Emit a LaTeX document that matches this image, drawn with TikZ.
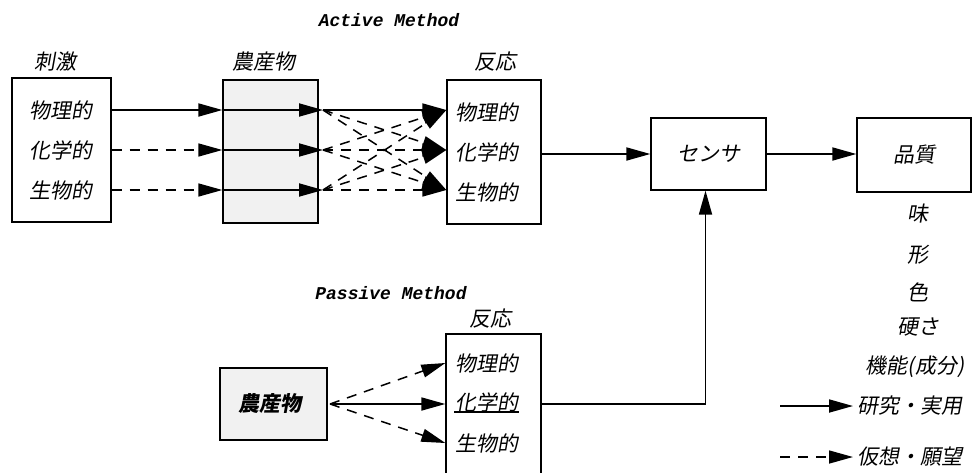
\documentclass[tikz,border=0pt]{standalone}
\usepackage{fontspec}
\usetikzlibrary{arrows.meta}
\newfontfamily\jp[FakeSlant=0.18]{Noto Sans CJK JP}
\newfontfamily\mono[FakeSlant=0.2]{Liberation Mono}
\begin{document}
\begin{tikzpicture}[x=1pt,y=-1pt,
  box/.style={draw,line width=1.3pt,inner sep=0pt},
  shade/.style={fill=gray!11},
  jt/.style={font=\jp\fontsize{21}{21}\selectfont,inner sep=1pt},
  tt/.style={font=\mono\bfseries\fontsize{18}{18}\selectfont,inner sep=0pt},
  tip/.style={-{Triangle[length=24pt,width=13pt]}},
  sol/.style={tip,line width=1.8pt},
  dsh/.style={tip,line width=1.5pt,dash pattern=on 10pt off 8pt}]
\useasboundingbox (0,0) rectangle (974,472);

% titles
\node[tt] (act) at (388,20) {Active Method};
\node[tt] (pas) at (390,293) {Passive Method};

% stimulus box
\node[box,minimum width=99pt,minimum height=144pt] (stim) at (61.5,150) {};
\node[jt] (stimt) at (55,62) {刺激};
\node[jt] (s1) at (61,110) {物理的};
\node[jt] (s2) at (61,150) {化学的};
\node[jt] (s3) at (61,190) {生物的};

% farm product box
\node[box,shade,minimum width=95pt,minimum height=143pt] (farm) at (270.5,151.5) {};
\node[jt] (farmt) at (264,62) {農産物};
\coordinate (f1) at (323,110);
\coordinate (f2) at (323,150);
\coordinate (f3) at (323,190);

% reaction box (active)
\node[box,minimum width=94pt,minimum height=144pt] (react) at (494,152) {};
\node[jt] (reactt) at (495,62) {反応};
\node[jt,anchor=west] (r1) at (454,112) {物理的};
\node[jt,anchor=west] (r2) at (454,152) {化学的};
\node[jt,anchor=west] (r3) at (454,192) {生物的};

% sensor and quality
\node[box,minimum width=115pt,minimum height=72pt] (sensor) at (708.5,154) {};
\node[jt] (sensort) at (708.5,154) {センサ};
\node[box,minimum width=114pt,minimum height=74pt] (qual) at (914,155) {};
\node[jt] (qualt) at (914,155) {品質};
\node[jt] (q1) at (918,214) {味};
\node[jt] (q2) at (918,255) {形};
\node[jt] (q3) at (918,292) {色};
\node[jt] (q4) at (918,327) {硬さ};
\node[jt] (q5) at (915,367) {機能(成分)};

% passive part
\node[box,shade,minimum width=107pt,minimum height=72pt] (farm2) at (273.5,404) {};
\node[jt,font=\jp\bfseries\fontsize{21}{21}\selectfont] (farm2t) at (270,404) {農産物};
\node[box,minimum width=95pt,minimum height=150pt] (react2) at (493.5,409) {};
\node[jt] (react2t) at (490,319) {反応};
\node[jt,anchor=west] (p1) at (454,363) {物理的};
\node[jt,anchor=west] (p2) at (454,402) {化学的};
\node[jt,anchor=west] (p3) at (454,443) {生物的};
\draw[line width=1.3pt] ([yshift=1pt]p2.south west) -- ([yshift=1pt]p2.south east);

% legend
\coordinate (la) at (780,406);
\coordinate (lb) at (853,406);
\coordinate (lc) at (780,457);
\coordinate (ld) at (853,457);
\node[jt,anchor=west] (leg1) at (856,406) {研究・実用};
\node[jt,anchor=west] (leg2) at (856,457) {仮想・願望};
\draw[sol] (la) -- (lb);
\draw[dsh] (lc) -- (ld);

% active arrows
\draw[sol] (s1 -| stim.east) -- (s1 -| farm.west);
\draw[dsh] (s2 -| stim.east) -- (s2 -| farm.west);
\draw[dsh] (s3 -| stim.east) -- (s3 -| farm.west);
\draw[sol] (s1 -| farm.west) -- (f1);
\draw[sol] (s2 -| farm.west) -- (f2);
\draw[sol] (s3 -| farm.west) -- (f3);
\draw[sol] (f1) -- (f1 -| react.west);
\draw[dsh] (f1) -- (f2 -| react.west);
\draw[dsh] (f1) -- (f3 -| react.west);
\draw[dsh] (f2) -- (f1 -| react.west);
\draw[dsh] (f2) -- (f2 -| react.west);
\draw[dsh] (f2) -- (f3 -| react.west);
\draw[dsh] (f3) -- (f1 -| react.west);
\draw[dsh] (f3) -- (f2 -| react.west);
\draw[dsh] (f3) -- (f3 -| react.west);
\draw[sol] (react.east |- sensor.west) -- (sensor.west);
\draw[sol] (sensor.east) -- (sensor.east -| qual.west);

% passive arrows
\coordinate (fo) at (330,404);
\draw[dsh] (fo) -- (p1 -| react2.west);
\draw[sol] (fo) -- (fo -| react2.west);
\draw[dsh] (fo) -- (p3 -| react2.west);
\draw[sol] (fo -| react2.east) -| ([xshift=-3pt]sensor.south);
\end{tikzpicture}
\end{document}
